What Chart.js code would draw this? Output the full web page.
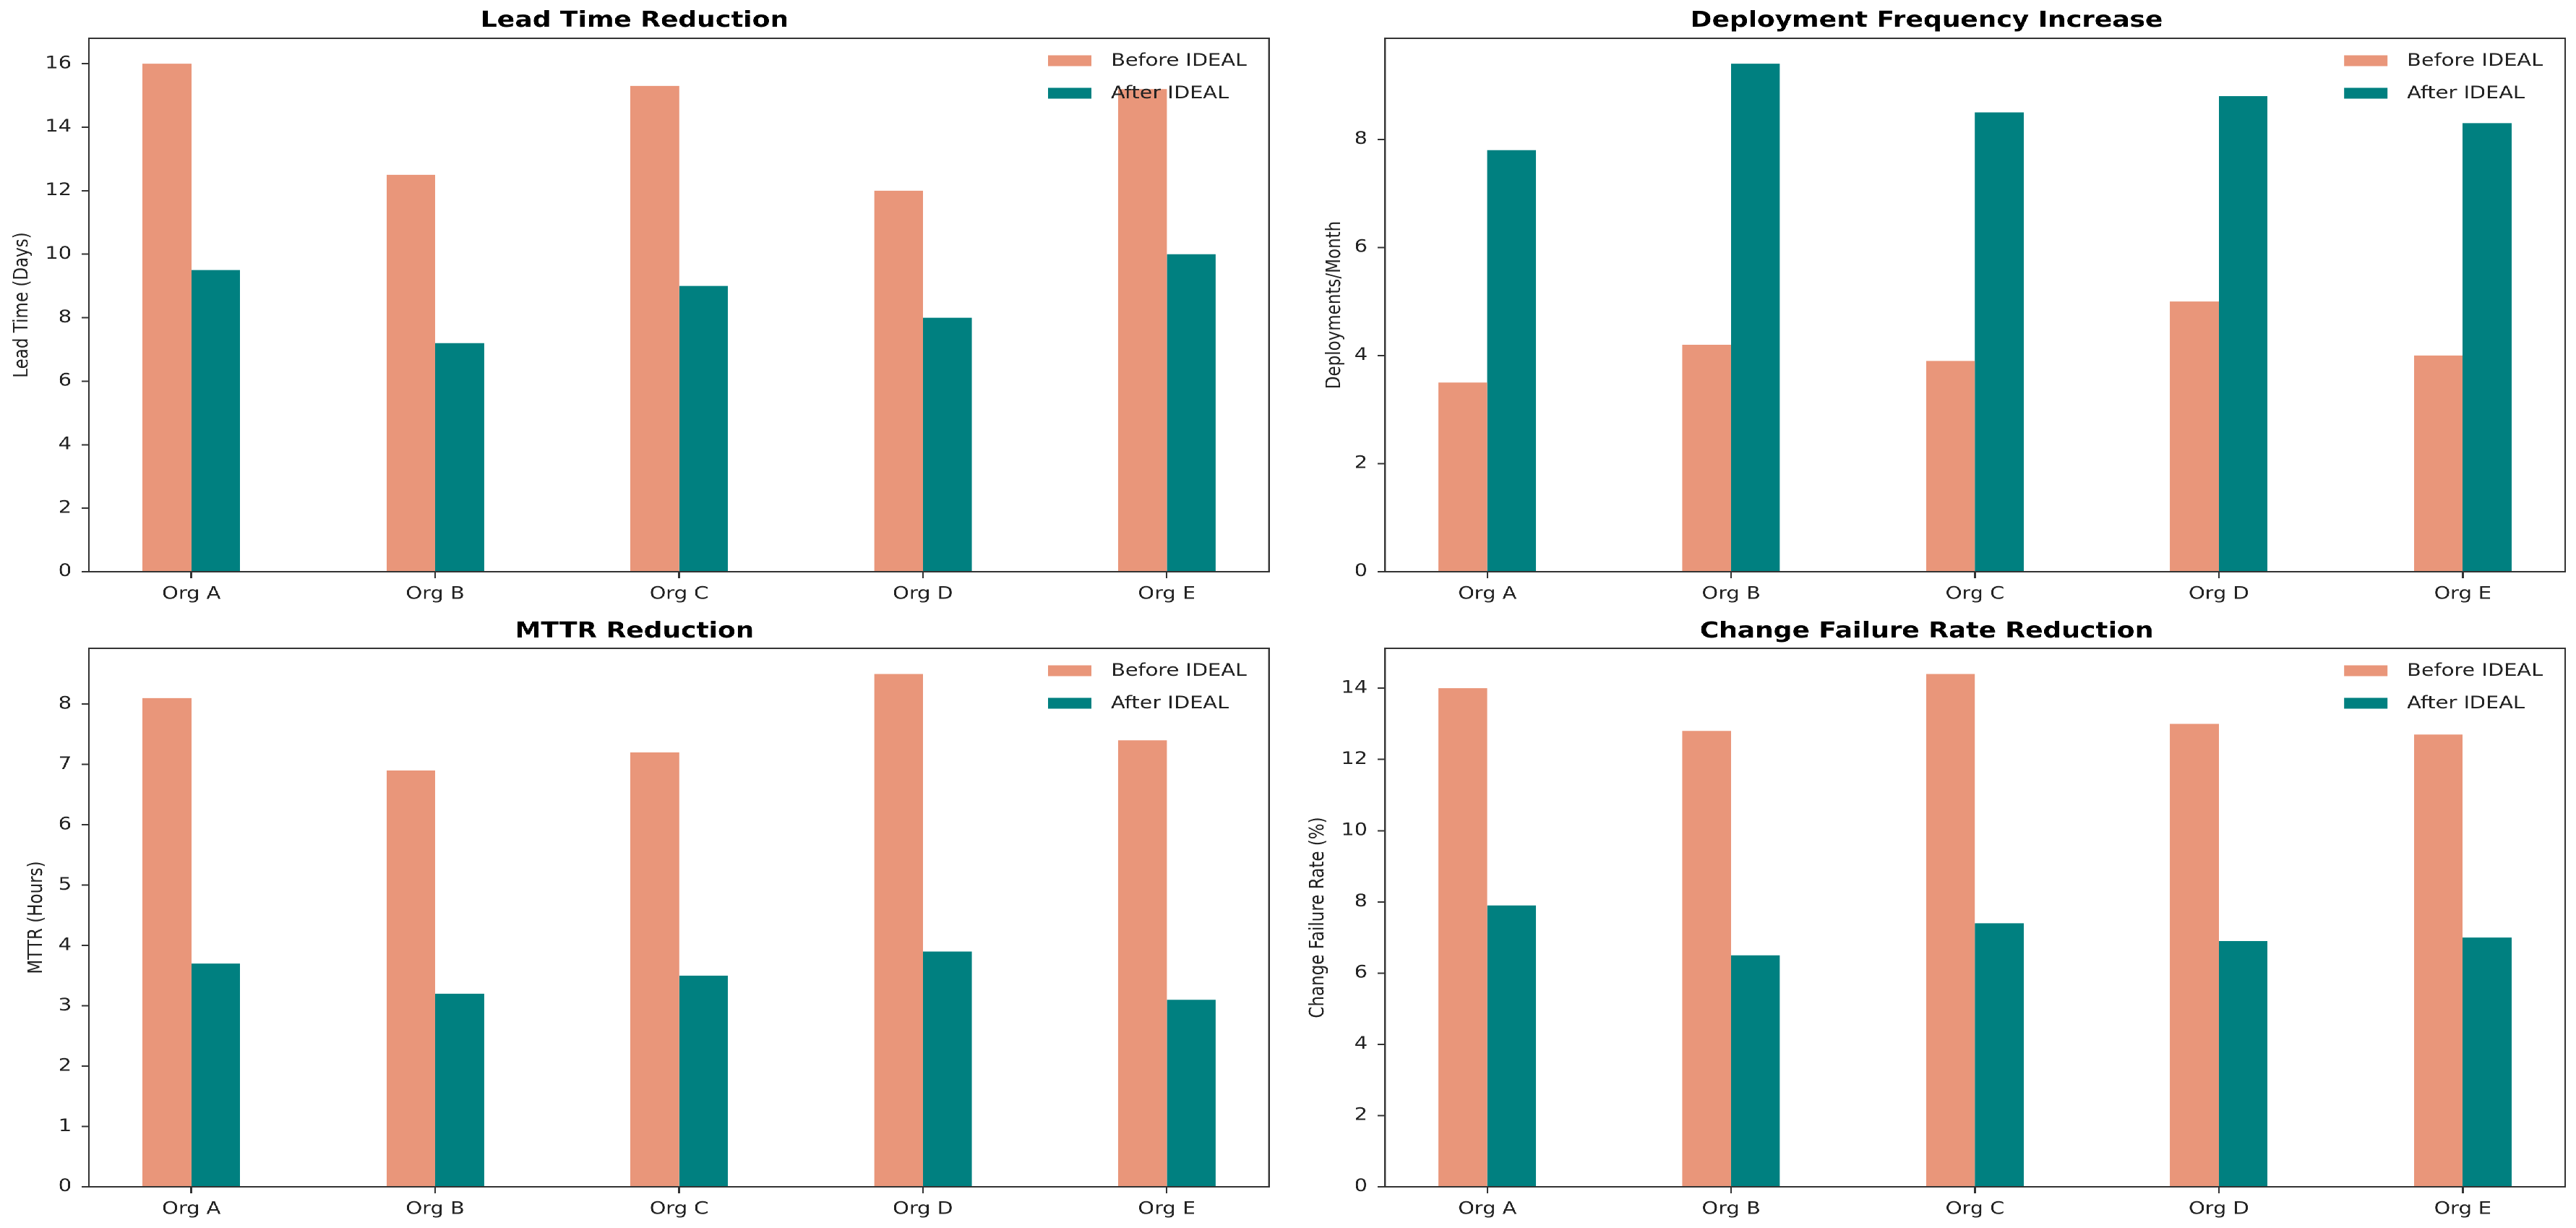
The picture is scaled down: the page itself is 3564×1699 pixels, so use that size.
<!DOCTYPE html>
<html><head><meta charset="utf-8">
<script src="https://cdn.jsdelivr.net/npm/chart.js@4/dist/chart.umd.min.js"></script>
<style>
html,body{margin:0;padding:0;background:#fff;overflow:hidden}
#fig{position:absolute;left:0;top:0;width:2970px;height:1699px;transform:scaleX(1.2);transform-origin:0 0;}
.p{position:absolute}
</style></head><body>
<div id="fig">
<div class="p" style="left:0;top:0;width:1485px;height:850px"><canvas id="c0"></canvas></div>
<div class="p" style="left:1485px;top:0;width:1485px;height:850px"><canvas id="c1"></canvas></div>
<div class="p" style="left:0;top:850px;width:1485px;height:849px"><canvas id="c2"></canvas></div>
<div class="p" style="left:1485px;top:850px;width:1485px;height:849px"><canvas id="c3"></canvas></div>
</div>
<script>
// ---- data ----
const orgs = ['Org A', 'Org B', 'Org C', 'Org D', 'Org E'];
const seriesLabels = ['Before IDEAL', 'After IDEAL'];
const leadBefore = [16.0, 12.5, 15.3, 12.0, 15.2];
const leadAfter = [9.5, 7.2, 9.0, 8.0, 10.0];
const deployBefore = [3.5, 4.2, 3.9, 5.0, 4.0];
const deployAfter = [7.8, 9.4, 8.5, 8.8, 8.3];
const mttrBefore = [8.1, 6.9, 7.2, 8.5, 7.4];
const mttrAfter = [3.7, 3.2, 3.5, 3.9, 3.1];
const cfrBefore = [14.0, 12.8, 14.4, 13.0, 12.7];
const cfrAfter = [7.9, 6.5, 7.4, 6.9, 7.0];
const panelTitles = ['Lead Time Reduction', 'Deployment Frequency Increase', 'MTTR Reduction', 'Change Failure Rate Reduction'];
const yTitles = ['Lead Time (Days)', 'Deployments/Month', 'MTTR (Hours)', 'Change Failure Rate (%)'];
const yTickSteps = [2, 2, 1, 2];

// ---- styling / layout ----
const colors = ['#E9967A', '#008080'];
Chart.defaults.font.family = '"DejaVu Sans", sans-serif';
const ink = '#222';
const spine = '#333';

const legendInside = {
  id: 'legendInside',
  afterDatasetsDraw(chart) {
    const {ctx, chartArea} = chart;
    ctx.save();
    ctx.font = '24px "DejaVu Sans"';
    const ds = chart.data.datasets;
    const maxW = Math.max(...ds.map(d => ctx.measureText(d.label).width));
    const textX = chartArea.right - 25.8 - maxW;
    ds.forEach((d, i) => {
      const cy = chartArea.top + 31 + i * 45;
      ctx.fillStyle = d.backgroundColor;
      ctx.fillRect(textX - 22.5 - 50, cy - 7.5, 50, 15);
      ctx.fillStyle = ink;
      ctx.textBaseline = 'middle';
      ctx.textAlign = 'left';
      ctx.fillText(d.label, textX, cy + 1);
    });
    ctx.restore();
  }
};
const frame = {
  id: 'frame',
  afterDatasetsDraw(chart) {
    const {ctx, chartArea: a} = chart;
    ctx.save();
    ctx.strokeStyle = spine;
    ctx.lineWidth = 2;
    ctx.strokeRect(a.left, a.top, a.right - a.left, a.bottom - a.top);
    ctx.restore();
  }
};

const panels = [
  {id: 'c0', before: leadBefore, after: leadAfter, yW: 102.5, padR: 21.7, tTop: 11, tBot: 6, xH: 59, yPad: 14.3},
  {id: 'c1', before: deployBefore, after: deployAfter, yW: 111.7, padR: 12.5, tTop: 11, tBot: 6, xH: 59, yPad: 42.7},
  {id: 'c2', before: mttrBefore, after: mttrAfter, yW: 102.5, padR: 21.7, tTop: 6, tBot: 5, xH: 57, yPad: 31},
  {id: 'c3', before: cfrBefore, after: cfrAfter, yW: 111.7, padR: 12.5, tTop: 6, tBot: 5, xH: 57, yPad: 23.5}
];

panels.forEach((p, k) => {
  const series = [p.before, p.after];
  const yMax = Math.max(...p.before, ...p.after) * 1.05;
  new Chart(document.getElementById(p.id), {
    type: 'bar',
    data: {
      datasets: series.map((arr, s) => ({
        label: seriesLabels[s],
        data: arr.map((v, i) => ({x: i, y: v})),
        backgroundColor: colors[s],
        borderWidth: 0,
        categoryPercentage: 0.4,
        barPercentage: 1.0
      }))
    },
    options: {
      responsive: true,
      maintainAspectRatio: false,
      animation: false,
      devicePixelRatio: 2,
      layout: {padding: {left: 0, right: p.padR, top: 0, bottom: 0}},
      plugins: {
        legend: {display: false},
        tooltip: {enabled: false},
        title: {
          display: true, text: panelTitles[k], color: '#000',
          font: {size: 30, weight: 'bold', lineHeight: 1.2},
          padding: {top: p.tTop, bottom: p.tBot}
        }
      },
      scales: {
        x: {
          type: 'linear', min: -0.42, max: 4.42, offset: false,
          afterBuildTicks: s => { s.ticks = orgs.map((_, i) => ({value: i})); },
          afterFit: s => { s.height = p.xH; },
          ticks: {callback: v => orgs[v] ?? '', font: {size: 24}, color: ink, padding: 8, maxRotation: 0, autoSkip: false},
          grid: {offset: false, drawOnChartArea: false, drawTicks: true, tickLength: 9, color: spine, lineWidth: 2},
          border: {display: false}
        },
        y: {
          min: 0, max: yMax,
          afterFit: s => { s.width = p.yW; },
          ticks: {stepSize: yTickSteps[k], includeBounds: false, font: {size: 24}, color: ink, padding: 11.5},
          grid: {offset: false, drawOnChartArea: false, drawTicks: true, tickLength: 8.5, color: spine, lineWidth: 2},
          border: {display: false},
          title: {display: true, text: yTitles[k], color: ink, font: {size: 23, lineHeight: 1}, padding: {top: p.yPad, bottom: 0}}
        }
      }
    },
    plugins: [frame, legendInside]
  });
});
</script>
</body></html>
